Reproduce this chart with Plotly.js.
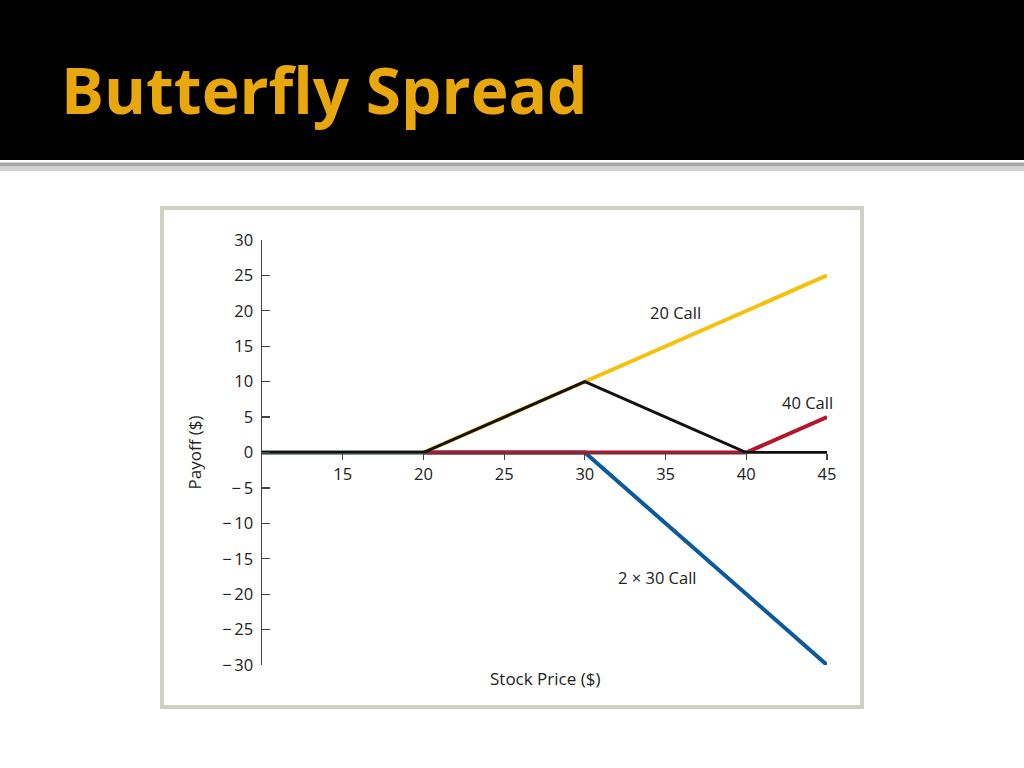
<!DOCTYPE html>
<html>
<head>
<meta charset="utf-8">
<script src="https://cdn.plot.ly/plotly-3.0.1.min.js"></script>
<style>html,body{margin:0;padding:0;background:#fff;}#chart{width:1024px;height:768px;}</style>
</head>
<body>
<div id="chart"></div>
<script>
// ---- data ----
const call20X = [10, 20, 45];
const call20Y = [0, 0, 25];
const call30x2X = [10, 30, 45];
const call30x2Y = [0, 0, -30];
const call40X = [20, 40, 45];
const call40Y = [0, 0, 5];
const butterflyX = [10, 20, 30, 40, 45];
const butterflyY = [0, 0, 10, 0, 0];
const xTickVals = [15, 20, 25, 30, 35, 40, 45];
const xTickText = ['15', '20', '25', '30', '35', '40', '45'];
const yTickVals = [30, 25, 20, 15, 10, 5, 0, -5, -10, -15, -20, -25, -30];
const yTickText = ['30', '25', '20', '15', '10', '5', '0', '\u2212\u20095', '\u2212\u200910', '\u2212\u200915', '\u2212\u200920', '\u2212\u200925', '\u2212\u200930'];
const seriesLabels = ['20 Call', '40 Call', '2 \u00d7 30 Call'];
const labelX = [35.6, 43.8, 34.5];
const labelY = [19.8, 7.0, -17.6];

// ---- layout geometry (pixels) ----
const L = 262, R = 827, T = 240, B = 665;
const W = R - L, H = B - T;
const px = v => (v - L) / W;
const py = v => (B - v) / H;

const font = 'Open Sans, Noto Sans, sans-serif';
const FS = 16.5;

const traces = [
  {x: call20X, y: call20Y, mode: 'lines', line: {color: '#F4C20D', width: 4}, name: '20 Call'},
  {x: call30x2X, y: call30x2Y, mode: 'lines', line: {color: '#0B5A9C', width: 4}, name: '2 x 30 Call'},
  {x: call40X, y: call40Y, mode: 'lines', line: {color: '#B4152B', width: 4}, name: '40 Call'},
  {x: butterflyX, y: butterflyY, mode: 'lines', line: {color: '#111111', width: 3}, name: 'Butterfly'}
];

const annotations = seriesLabels.map((t, i) => ({
  x: labelX[i], y: labelY[i], xref: 'x', yref: 'y', text: t, showarrow: false,
  font: {family: font, size: FS, color: '#222'}
}));
annotations.push({
  xref: 'paper', yref: 'paper', x: px(59), y: py(90), xanchor: 'left', yanchor: 'middle',
  text: '<b>Butterfly Spread</b>', showarrow: false,
  font: {family: 'Open Sans, sans-serif', size: 64, color: '#E8A70C'}
});
annotations.push({
  xref: 'paper', yref: 'paper', x: px(545), y: py(678), xanchor: 'center', yanchor: 'middle',
  text: 'Stock Price ($)', showarrow: false,
  font: {family: font, size: 17, color: '#222'}
});

const shapes = [
  {type: 'rect', xref: 'paper', yref: 'paper', x0: px(0), x1: px(1024), y0: py(0), y1: py(160), fillcolor: '#000', line: {width: 0}, layer: 'below'},
  {type: 'rect', xref: 'paper', yref: 'paper', x0: px(0), x1: px(1024), y0: py(162.5), y1: py(166), fillcolor: '#a6a6a6', line: {width: 0}, layer: 'below'},
  {type: 'rect', xref: 'paper', yref: 'paper', x0: px(0), x1: px(1024), y0: py(166), y1: py(171), fillcolor: '#d2d2d2', line: {width: 0}, layer: 'below'},
  {type: 'rect', xref: 'paper', yref: 'paper', x0: px(162), x1: px(862), y0: py(208), y1: py(707), fillcolor: 'rgba(0,0,0,0)', line: {color: '#D0D0C4', width: 4}, layer: 'below'}
];

const layout = {
  width: 1024, height: 768,
  margin: {l: L, r: 1024 - R, t: T, b: 768 - B, pad: 0},
  paper_bgcolor: '#fff', plot_bgcolor: 'rgba(0,0,0,0)',
  showlegend: false,
  xaxis: {
    range: [10, 45], anchor: 'free', position: 0.5,
    showline: true, linecolor: '#444', linewidth: 1.5,
    tickmode: 'array', tickvals: xTickVals, ticktext: xTickText,
    ticks: 'outside', ticklen: 6, tickcolor: '#444', tickwidth: 1.2,
    showgrid: false, zeroline: false,
    tickfont: {family: font, size: FS, color: '#222'}
  },
  yaxis: {
    range: [-30, 30],
    showline: true, linecolor: '#444', linewidth: 1.5,
    tickmode: 'array', tickvals: yTickVals, ticktext: yTickText,
    ticks: 'inside', ticklen: 8, tickcolor: '#444', tickwidth: 1.2,
    ticklabelstandoff: 4,
    showgrid: false, zeroline: false,
    tickfont: {family: font, size: FS, color: '#222'},
    title: {text: 'Payoff ($)', font: {family: font, size: 17, color: '#222'}, standoff: 16}
  },
  annotations: annotations,
  shapes: shapes
};

Plotly.newPlot('chart', traces, layout, {displayModeBar: false, staticPlot: true});
</script>
</body>
</html>
